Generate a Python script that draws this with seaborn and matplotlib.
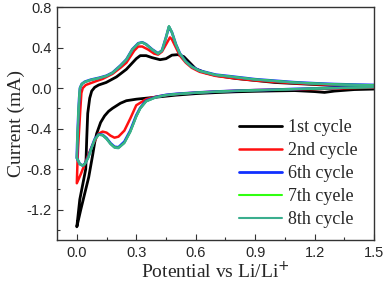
import matplotlib
matplotlib.use("Agg")
import matplotlib.pyplot as plt
from matplotlib.ticker import MultipleLocator
import seaborn as sns
import pandas as pd

# ---------------- data (potential V, current mA) ----------------
# 1st cycle
c1_cath_v = [1.50, 1.40, 1.30, 1.25, 1.20, 1.10, 1.00, 0.90, 0.80, 0.70, 0.60, 0.50, 0.45, 0.40,
             0.35, 0.30, 0.25, 0.22, 0.20, 0.18, 0.16, 0.14, 0.12, 0.10, 0.09, 0.08, 0.06, 0.04,
             0.02, 0.00]
c1_cath_i = [-0.010, -0.015, -0.030, -0.043, -0.035, -0.025, -0.028, -0.032, -0.037, -0.045,
             -0.055, -0.070, -0.080, -0.090, -0.100, -0.110, -0.125, -0.150, -0.175, -0.200,
             -0.230, -0.275, -0.340, -0.450, -0.540, -0.660, -0.880, -1.040, -1.200, -1.370]
c1_anod_v = [0.000, 0.015, 0.030, 0.045, 0.050, 0.055, 0.065, 0.075, 0.090, 0.110, 0.148, 0.200,
             0.250, 0.300, 0.320, 0.350, 0.380, 0.420, 0.450, 0.480, 0.510, 0.540, 0.570, 0.600,
             0.650, 0.700, 0.800, 0.900, 1.000, 1.100, 1.200, 1.300, 1.400, 1.500]
c1_anod_i = [-1.370, -1.100, -0.950, -0.800, -0.500, -0.250, -0.100, -0.030, 0.007, 0.030, 0.055,
             0.110, 0.185, 0.290, 0.320, 0.320, 0.300, 0.280, 0.290, 0.325, 0.330, 0.310, 0.250,
             0.190, 0.150, 0.125, 0.095, 0.075, 0.055, 0.045, 0.035, 0.025, 0.020, 0.015]

# 2nd cycle
c2_cath_v = [1.50, 1.40, 1.30, 1.20, 1.10, 1.00, 0.90, 0.80, 0.70, 0.60, 0.50, 0.45, 0.40, 0.35,
             0.30, 0.27, 0.24, 0.21, 0.19, 0.17, 0.15, 0.13, 0.11, 0.08, 0.06, 0.04, 0.02, 0.00]
c2_cath_i = [0.005, 0.000, -0.005, -0.010, -0.012, -0.016, -0.020, -0.027, -0.035, -0.045, -0.060,
             -0.070, -0.085, -0.110, -0.170, -0.300, -0.420, -0.480, -0.490, -0.470, -0.440,
             -0.430, -0.450, -0.560, -0.650, -0.750, -0.850, -0.940]
c2_anod_v = [0.000, 0.003, 0.006, 0.012, 0.018, 0.023, 0.030, 0.045, 0.065, 0.100, 0.130, 0.180,
             0.220, 0.250, 0.290, 0.310, 0.330, 0.360, 0.390, 0.410, 0.430, 0.450, 0.470, 0.480,
             0.500, 0.520, 0.550, 0.580, 0.620, 0.700, 0.800, 0.900, 1.000, 1.100, 1.200, 1.300,
             1.400, 1.500]
c2_anod_i = [-0.940, -0.750, -0.600, -0.400, -0.200, -0.050, 0.000, 0.030, 0.045, 0.070, 0.090,
             0.140, 0.200, 0.250, 0.370, 0.410, 0.410, 0.380, 0.340, 0.330, 0.360, 0.430, 0.500,
             0.480, 0.400, 0.320, 0.250, 0.200, 0.160, 0.120, 0.095, 0.075, 0.060, 0.048, 0.038,
             0.030, 0.025, 0.020]

# 6th cycle
c6_cath_v = [1.50, 1.40, 1.30, 1.20, 1.10, 1.00, 0.90, 0.80, 0.70, 0.60, 0.50, 0.45, 0.40, 0.35,
             0.32, 0.30, 0.27, 0.24, 0.21, 0.19, 0.17, 0.15, 0.13, 0.11, 0.09, 0.073, 0.057,
             0.040, 0.030, 0.015, 0.000]
c6_cath_i = [0.012, 0.007, 0.002, -0.004, -0.009, -0.016, -0.021, -0.027, -0.035, -0.045, -0.058,
             -0.068, -0.088, -0.125, -0.195, -0.270, -0.420, -0.530, -0.585, -0.580, -0.545,
             -0.495, -0.462, -0.458, -0.505, -0.595, -0.685, -0.750, -0.765, -0.750, -0.690]
c6_anod_v = [0.000, 0.002, 0.005, 0.008, 0.012, 0.016, 0.025, 0.040, 0.070, 0.115, 0.150, 0.180,
             0.220, 0.250, 0.280, 0.310, 0.330, 0.350, 0.380, 0.410, 0.430, 0.450, 0.465, 0.480,
             0.500, 0.520, 0.550, 0.580, 0.620, 0.700, 0.770, 0.900, 1.000, 1.100, 1.200, 1.300,
             1.400, 1.500]
c6_anod_i = [-0.690, -0.550, -0.400, -0.250, -0.100, 0.000, 0.040, 0.062, 0.082, 0.102, 0.122,
             0.152, 0.222, 0.282, 0.382, 0.442, 0.452, 0.432, 0.382, 0.342, 0.372, 0.500, 0.605,
             0.550, 0.432, 0.342, 0.262, 0.212, 0.172, 0.132, 0.117, 0.087, 0.072, 0.057, 0.047,
             0.039, 0.034, 0.030]

# 7th cycle
c7_cath_v = [1.50, 1.40, 1.30, 1.20, 1.10, 1.00, 0.90, 0.80, 0.70, 0.60, 0.50, 0.45, 0.40, 0.35,
             0.32, 0.30, 0.27, 0.24, 0.21, 0.19, 0.17, 0.15, 0.13, 0.11, 0.09, 0.073, 0.057,
             0.040, 0.030, 0.015, 0.000]
c7_cath_i = [0.010, 0.005, 0.000, -0.005, -0.010, -0.017, -0.022, -0.028, -0.036, -0.046, -0.060,
             -0.070, -0.090, -0.130, -0.200, -0.280, -0.430, -0.540, -0.590, -0.585, -0.550,
             -0.500, -0.465, -0.460, -0.510, -0.600, -0.690, -0.750, -0.765, -0.750, -0.690]
c7_anod_v = [0.000, 0.002, 0.005, 0.008, 0.012, 0.016, 0.025, 0.040, 0.070, 0.115, 0.150, 0.180,
             0.220, 0.250, 0.280, 0.310, 0.330, 0.350, 0.380, 0.410, 0.430, 0.450, 0.465, 0.480,
             0.500, 0.520, 0.550, 0.580, 0.620, 0.700, 0.770, 0.900, 1.000, 1.100, 1.200, 1.300,
             1.400, 1.500]
c7_anod_i = [-0.690, -0.550, -0.400, -0.250, -0.100, 0.000, 0.040, 0.060, 0.080, 0.100, 0.120,
             0.150, 0.220, 0.280, 0.380, 0.440, 0.450, 0.430, 0.380, 0.340, 0.370, 0.500, 0.610,
             0.550, 0.430, 0.340, 0.260, 0.210, 0.170, 0.130, 0.115, 0.085, 0.070, 0.055, 0.045,
             0.037, 0.032, 0.028]

# 8th cycle
c8_cath_v = [1.50, 1.40, 1.30, 1.20, 1.10, 1.00, 0.90, 0.80, 0.70, 0.60, 0.50, 0.45, 0.40, 0.35,
             0.32, 0.30, 0.27, 0.24, 0.21, 0.19, 0.17, 0.15, 0.13, 0.11, 0.09, 0.073, 0.057,
             0.040, 0.030, 0.015, 0.000]
c8_cath_i = [0.009, 0.004, -0.001, -0.006, -0.011, -0.018, -0.023, -0.029, -0.037, -0.047, -0.061,
             -0.071, -0.092, -0.133, -0.205, -0.285, -0.435, -0.545, -0.595, -0.590, -0.555,
             -0.505, -0.468, -0.462, -0.512, -0.602, -0.692, -0.752, -0.768, -0.752, -0.692]
c8_anod_v = [0.000, 0.002, 0.005, 0.008, 0.012, 0.016, 0.025, 0.040, 0.070, 0.115, 0.150, 0.180,
             0.220, 0.250, 0.280, 0.310, 0.330, 0.350, 0.380, 0.410, 0.430, 0.450, 0.465, 0.480,
             0.500, 0.520, 0.550, 0.580, 0.620, 0.700, 0.770, 0.900, 1.000, 1.100, 1.200, 1.300,
             1.400, 1.500]
c8_anod_i = [-0.692, -0.552, -0.402, -0.252, -0.102, -0.002, 0.039, 0.059, 0.079, 0.099, 0.119,
             0.149, 0.219, 0.279, 0.379, 0.440, 0.450, 0.428, 0.378, 0.338, 0.368, 0.498, 0.612,
             0.548, 0.428, 0.338, 0.258, 0.208, 0.168, 0.128, 0.113, 0.083, 0.068, 0.053, 0.043,
             0.035, 0.030, 0.026]

labels = ["1st cycle", "2nd cycle", "6th cycle", "7th cyele", "8th cycle"]
colors = ["#000000", "#FF1010", "#1030FF", "#30FF10", "#3AAE8E"]

x_ticks = [0.0, 0.3, 0.6, 0.9, 1.2, 1.5]
y_ticks = [-1.2, -0.8, -0.4, 0.0, 0.4, 0.8]

series = [
    (c1_cath_v + c1_anod_v, c1_cath_i + c1_anod_i),
    (c2_cath_v + c2_anod_v, c2_cath_i + c2_anod_i),
    (c6_cath_v + c6_anod_v, c6_cath_i + c6_anod_i),
    (c7_cath_v + c7_anod_v, c7_cath_i + c7_anod_i),
    (c8_cath_v + c8_anod_v, c8_cath_i + c8_anod_i),
]
widths = [2.0, 1.8, 2.0, 1.5, 1.5]

# ---------------- style ----------------
sns.set_style("ticks")
plt.rcParams["font.family"] = ["Liberation Sans", "DejaVu Sans"]
serif = ["Liberation Serif", "DejaVu Serif"]

fig = plt.figure(figsize=(3.86, 2.81), dpi=100)
ax = fig.add_axes([0.1477, 0.146, 0.8213, 0.829])

for (v, i), lab, col, lw in zip(series, labels, colors, widths):
    df = pd.DataFrame({"V": v, "I": i})
    sns.lineplot(data=df, x="V", y="I", sort=False, estimator=None, ax=ax,
                 color=col, linewidth=lw, label=lab)

ax.set_xlim(-0.1, 1.5)
ax.set_ylim(-1.5, 0.8)
ax.set_xticks(x_ticks)
ax.set_yticks(y_ticks)
ax.set_xticklabels([f"{t:.1f}" for t in x_ticks])
ax.set_yticklabels([f"{t:.1f}" for t in y_ticks])
ax.xaxis.set_minor_locator(MultipleLocator(0.15))
ax.yaxis.set_minor_locator(MultipleLocator(0.2))
ax.tick_params(which="both", direction="in", top=False, right=False, labelsize=10.5,
               color="#333333")
ax.tick_params(which="major", length=4, width=0.8, pad=4)
ax.tick_params(which="minor", length=2.5, width=0.8)
for s in ax.spines.values():
    s.set_visible(True)
    s.set_linewidth(1.0)
    s.set_color("#333333")

ax.set_xlabel("Potential vs Li/Li$^{+}$", fontsize=14, family=serif, labelpad=1)
ax.set_ylabel("Current (mA)", fontsize=14, family=serif, labelpad=1)

leg = ax.legend(loc="lower right", frameon=False, prop={"family": serif, "size": 13},
                handlelength=2.4, handletextpad=0.3, labelspacing=0.33,
                bbox_to_anchor=(0.982, 0.005), borderaxespad=0.2)

fig.savefig("out.png", dpi=100)
